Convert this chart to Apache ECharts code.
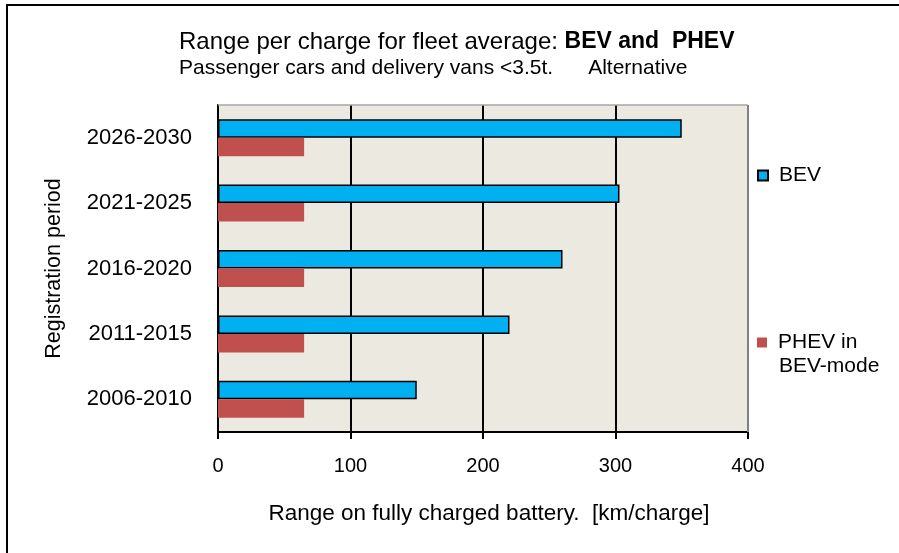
<!DOCTYPE html>
<html>
<head>
<meta charset="utf-8">
<script src="https://cdn.jsdelivr.net/npm/echarts@6/dist/echarts.min.js"></script>
<style>
  html, body { margin: 0; padding: 0; background: #fff; }
  #main { width: 899px; height: 553px; }
</style>
</head>
<body>
<div id="main"></div>
<script>
// registration periods, bottom to top
const periods = ['2006-2010', '2011-2015', '2016-2020', '2021-2025', '2026-2030']
const bevRange = [150, 220, 260, 303, 350]
const phevRange = [65, 65, 65, 65, 65]
const xTicks = [0, 100, 200, 300, 400]

const font = 'Arial, "Liberation Sans", sans-serif'

let myChart = echarts.init(document.getElementById('main'))

myChart.setOption({
  backgroundColor: '#fff',
  animation: false,
  title: {
    text: '{n|Range per charge for fleet average: }{b|BEV and  PHEV}',
    subtext: 'Passenger cars and delivery vans <3.5t.      Alternative',
    left: 174,
    top: 25,
    itemGap: 4,
    textStyle: {
      fontWeight: 'normal',
      rich: {
        n: { fontFamily: font, fontSize: 24, fontWeight: 'normal', color: '#000' },
        b: { fontFamily: font, fontSize: 23, fontWeight: 'bold', color: '#000' }
      }
    },
    subtextStyle: { fontFamily: font, fontSize: 21, color: '#000' }
  },
  legend: [
    {
      data: ['BEV'],
      icon: 'rect',
      left: 752,
      top: 160,
      itemWidth: 10,
      itemHeight: 10,
      textStyle: { fontFamily: font, fontSize: 21, color: '#000', padding: [0, 0, 0, 6] }
    },
    {
      data: ['PHEV in BEV-mode'],
      icon: 'rect',
      left: 752,
      top: 327,
      itemWidth: 10,
      itemHeight: 10,
      formatter: () => 'PHEV in',
      textStyle: { fontFamily: font, fontSize: 21, color: '#000', padding: [0, 0, 0, 6] }
    }
  ],
  grid: { left: 218, right: 151, top: 105, bottom: 121, backgroundColor: '#ECEAE0', show: true, borderWidth: 0 },
  xAxis: {
    type: 'value',
    min: xTicks[0],
    max: xTicks[xTicks.length - 1],
    interval: 100,
    name: 'Range on fully charged battery.  [km/charge]',
    nameLocation: 'middle',
    nameGap: 70,
    nameTextStyle: { fontFamily: font, fontSize: 22.5, color: '#000', padding: [0, 0, 0, 12] },
    axisLine: { show: true, lineStyle: { color: '#000', width: 2 } },
    axisTick: { show: true, length: 7, lineStyle: { color: '#000', width: 2 } },
    axisLabel: { fontFamily: font, fontSize: 20, color: '#000', margin: 24 },
    splitLine: { show: true, lineStyle: { color: '#000', width: 2 } }
  },
  yAxis: {
    type: 'category',
    data: periods,
    name: 'Registration period',
    nameLocation: 'middle',
    nameGap: 153,
    nameRotate: 90,
    nameTextStyle: { fontFamily: font, fontSize: 21.5, color: '#000' },
    axisLine: { show: true, lineStyle: { color: '#000', width: 2 } },
    axisTick: { show: false },
    axisLabel: { fontFamily: font, fontSize: 22, color: '#000', margin: 26 }
  },
  series: [
    {
      name: 'BEV',
      type: 'bar',
      data: bevRange,
      barWidth: 18.5,
      barGap: '0%',
      itemStyle: { color: '#00B0F0', borderColor: '#000', borderWidth: 1.5 }
    },
    {
      name: 'PHEV in BEV-mode',
      type: 'bar',
      data: phevRange,
      barWidth: 18.5,
      barGap: '0%',
      itemStyle: { color: '#C0504D' }
    }
  ],
  graphic: [
    // second line of the PHEV legend entry
    { type: 'text', left: 779, top: 356, style: { text: 'BEV-mode', font: '21px ' + font, fill: '#000' } },
    // right and top border of plot area
    { type: 'line', shape: { x1: 748, y1: 105, x2: 748, y2: 432 }, style: { stroke: '#808080', lineWidth: 2 }, z: 10 },
    { type: 'line', shape: { x1: 218, y1: 105, x2: 748, y2: 105 }, style: { stroke: '#A6A6A6', lineWidth: 1.5 }, z: 10 },
    // outer frame
    { type: 'rect', shape: { x: 7, y: 5, width: 1000, height: 1000 }, style: { fill: null, stroke: '#000', lineWidth: 2 }, silent: true }
  ]
}, true)

window.addEventListener('resize', () => { myChart.resize() })
</script>
</body>
</html>
